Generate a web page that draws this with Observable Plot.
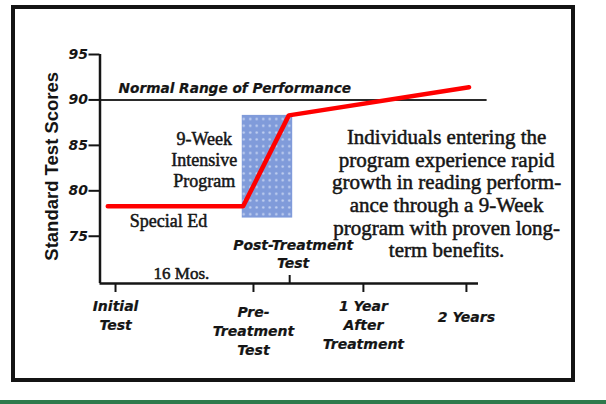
<!DOCTYPE html>
<html>
<head>
<meta charset="utf-8">
<script src="https://cdn.jsdelivr.net/npm/d3@7"></script>
<script src="https://cdn.jsdelivr.net/npm/@observablehq/plot@0.6"></script>
<style>
  html, body { margin: 0; padding: 0; background: #ffffff; }
  #wrap { position: relative; width: 606px; height: 404px; overflow: hidden; }
  #border { position: absolute; left: 11px; top: 5px; width: 556px; height: 369px; border: 4px solid #141414; pointer-events: none; }
  #green { position: absolute; left: 0; top: 400px; width: 606px; height: 4px; background: #2e7a4c; }
  svg { position: absolute; left: 0; top: 0; }
</style>
</head>
<body>
<div id="wrap"></div>
<script>
// ---- data ----
const yTicks = [75, 80, 85, 90, 95];
const periods = ["Initial\nTest", "Pre-\nTreatment\nTest", "1 Year\nAfter\nTreatment", "2 Years"];
const periodMonths = [0, 16, 28.75, 40.7];
const postTreatmentMonth = 20.2;
const scoreMonths = [-0.9, 14.8, 20.1, 41.0];
const scores = [78.3, 78.3, 88.3, 91.4];
const normalScore = 90;
const programMonths = [14.7, 20.55];
const programScores = [77.0, 88.3];
const axisMonths = [-1.8, 42.1];
const normalLineMonths = [-1.8, 43.1];
const yBottom = 69.8;

const scoreTable = scoreMonths.map((m, i) => ({month: m, score: scores[i]}));
const periodTable = periods.map((label, i) => ({label, month: periodMonths[i], i}));
const program = [{x1: programMonths[0], x2: programMonths[1], y1: programScores[0], y2: programScores[1]}];

const sans = "DejaVu Sans, Verdana, sans-serif";
const serif = "Liberation Serif, Times New Roman, serif";
const ink = "#151515";

const tickLabel = (filter, dy) => Plot.text(periodTable, {
  filter, x: "month", y: yBottom, text: "label", dy, lineAnchor: "top",
  fontFamily: sans, fontWeight: "bold", fontStyle: "italic", fontSize: 14,
  lineHeight: 1.35, fill: ink, stroke: ink, strokeWidth: 0.2
});

const svg = Plot.plot({
  width: 606, height: 404,
  marginTop: 54, marginBottom: 121, marginLeft: 99.5, marginRight: 128,
  x: {domain: axisMonths, axis: null},
  y: {domain: [yBottom, 95], axis: null},
  style: {background: "transparent", overflow: "visible"},
  marks: [
    // 9-week program box
    Plot.rect(program, {x1: "x1", x2: "x2", y1: "y1", y2: "y2", fill: "url(#dots)"}),
    // normal range line
    Plot.ruleY([normalScore], {x1: normalLineMonths[0], x2: normalLineMonths[1], stroke: "#2a2a2a", strokeWidth: 2}),
    // axes lines
    Plot.ruleX([axisMonths[0]], {y1: yBottom, y2: 95, stroke: ink, strokeWidth: 2.5}),
    Plot.ruleY([yBottom], {x1: axisMonths[0], x2: axisMonths[1], stroke: ink, strokeWidth: 2.5}),
    Plot.axisY(yTicks, {tickSize: 11, tickPadding: 1, strokeWidth: 2, stroke: ink, fill: ink,
      fontFamily: sans, fontWeight: "bold", fontStyle: "italic", fontSize: 14, label: null}),
    Plot.axisX(periodMonths, {tickSize: 9, strokeWidth: 2, stroke: ink, tickFormat: () => "", label: null}),
    Plot.axisX([postTreatmentMonth], {tickSize: -8, strokeWidth: 2, stroke: ink, tickFormat: () => "", label: null}),
    // x tick labels
    tickLabel(d => d.i === 0 || d.i === 2, 14.5),
    tickLabel(d => d.i === 1, 20),
    tickLabel(d => d.i === 3, 25),
    // score line
    Plot.line(scoreTable, {x: "month", y: "score", stroke: "#ff0000", strokeWidth: 4.5, strokeLinejoin: "round"}),
    // y label
    Plot.text(["Standard Test Scores"], {frameAnchor: "left", textAnchor: "middle", y: 82.7, dx: -47.5, rotate: -90,
      fontFamily: "Liberation Sans, Arial, sans-serif", fontWeight: "bold", fontSize: 18.5, fill: ink}),
    // annotations
    Plot.text(["Normal Range of Performance"], {x: 0.35, y: 91.3, textAnchor: "start",
      fontFamily: sans, fontWeight: "bold", fontStyle: "italic", fontSize: 13.7, fill: ink, stroke: ink, strokeWidth: 0.2}),
    Plot.text(["Post-Treatment\nTest"], {x: 20.6, y: 73.1, lineHeight: 1.3,
      fontFamily: sans, fontWeight: "bold", fontStyle: "italic", fontSize: 14, fill: ink, stroke: ink, strokeWidth: 0.2}),
    Plot.text(["9-Week\nIntensive\nProgram"], {x: 10.3, y: 83.5, lineHeight: 1.17,
      fontFamily: serif, fontSize: 18, fill: ink, stroke: ink, strokeWidth: 0.5}),
    Plot.text(["Special Ed"], {x: 6.15, y: 76.65,
      fontFamily: serif, fontSize: 18, fill: ink, stroke: ink, strokeWidth: 0.5}),
    Plot.text(["16 Mos."], {x: 7.65, y: 70.9,
      fontFamily: serif, fontSize: 17, fill: ink, stroke: ink, strokeWidth: 0.5}),
    Plot.text(["Individuals entering the\nprogram experience rapid\ngrowth in reading perform-\nance through a 9-Week\nprogram with proven long-\nterm benefits."],
      {x: 38.4, y: 79.7, lineHeight: 1.08,
      fontFamily: serif, fontSize: 21, fill: ink, stroke: ink, strokeWidth: 0.5})
  ]
});

d3.select(svg).insert("defs", ":first-child").html(
  '<pattern id="dots" width="6.5" height="6.8" patternUnits="userSpaceOnUse">' +
  '<rect width="6.5" height="6.8" fill="#809bda"></rect>' +
  '<circle cx="3.25" cy="3.4" r="1.2" fill="#c3d1f1"></circle></pattern>'
);

const wrap = document.getElementById("wrap");
wrap.appendChild(svg);
const border = document.createElement("div"); border.id = "border"; wrap.appendChild(border);
const green = document.createElement("div"); green.id = "green"; wrap.appendChild(green);
</script>
</body>
</html>
